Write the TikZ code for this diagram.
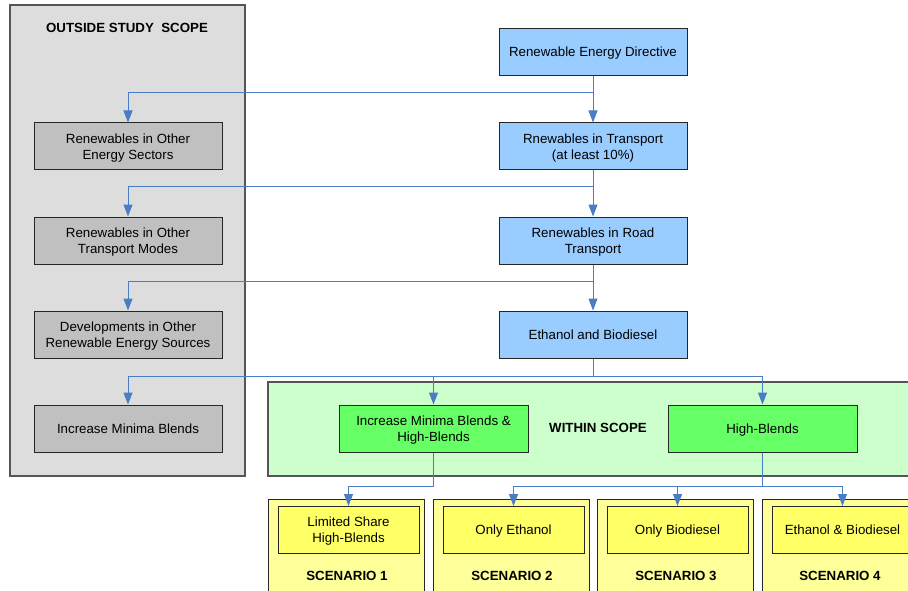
\documentclass[tikz,border=0pt]{standalone}
\usepackage{fontspec}
\setmainfont{Liberation Sans}
\usepackage{tikz}
\usetikzlibrary{arrows.meta}

\definecolor{outbg}{HTML}{DDDDDD}
\definecolor{outnode}{HTML}{C0C0C0}
\definecolor{bluenode}{HTML}{99CCFF}
\definecolor{greenbg}{HTML}{CCFFCC}
\definecolor{greennode}{HTML}{66FF66}
\definecolor{yellowbg}{HTML}{FFFF99}
\definecolor{yellownode}{HTML}{FFFF66}
\definecolor{linkblue}{HTML}{4A7EC4}
\definecolor{frame}{HTML}{555555}

\begin{document}
\begin{tikzpicture}[x=1pt, y=-1pt,
    every node/.style={font=\fontsize{13.3}{16.3}\selectfont, align=center, inner sep=0pt, text depth=0pt},
    lbl/.style={font=\fontsize{13.3}{16.3}\selectfont\bfseries},
    box/.style={draw=black!85, line width=1pt, minimum width=188pt, minimum height=47pt},
    smallbox/.style={box, fill=yellownode, minimum width=141pt},
    scen/.style={draw=black!85, line width=1pt, fill=yellowbg, minimum width=156pt, minimum height=101pt},
    area/.style={draw=frame, line width=1.3pt},
    wire/.style={draw=linkblue, line width=1pt},
    link/.style={wire, -{Triangle[length=12pt,width=9pt]}}]

    \useasboundingbox (0,0) rectangle (908,591);
    \clip (0,0) rectangle (908,591);

    % outside scope
    \draw[area, fill=outbg] (10,5) rectangle (245,476);
    \node[lbl] (outtitle) at (127,28) {OUTSIDE STUDY\ \ SCOPE};
    \node[box, fill=outnode] (oth1) at (128,146.5) {Renewables in Other\\Energy Sectors};
    \node[box, fill=outnode] (oth2) at (128,240.5) {Renewables in Other\\Transport Modes};
    \node[box, fill=outnode] (oth3) at (128,334.5) {Developments in Other\\Renewable Energy Sources};
    \node[box, fill=outnode] (oth4) at (128,428.5) {Increase Minima Blends};

    % policy chain
    \node[box, fill=bluenode] (red) at (593,52) {Renewable Energy Directive};
    \node[box, fill=bluenode] (trans) at (593,146.5) {Rnewables in Transport\\(at least 10\%)};
    \node[box, fill=bluenode] (road) at (593,240.5) {Renewables in Road\\Transport};
    \node[box, fill=bluenode] (ethbio) at (593,334.5) {Ethanol and Biodiesel};

    % within scope
    \draw[area, fill=greenbg] (268,382) rectangle (930,476);
    \node[lbl] (within) at (598,428) {WITHIN SCOPE};
    \node[box, fill=greennode, minimum width=189pt] (incr) at (433.5,428.5) {Increase Minima Blends \&\\High-Blends};
    \node[box, fill=greennode, minimum width=189pt] (high) at (762.5,428.5) {High-Blends};

    % scenarios
    \node[scen] (sc1) at (346,549.5) {};
    \node[smallbox] (in1) at (348.5,530) {Limited Share\\High-Blends};
    \node[lbl] (lab1) at (347,576) {SCENARIO 1};

    \node[scen] (sc2) at (511,549.5) {};
    \node[smallbox] (in2) at (513.5,530) {Only Ethanol};
    \node[lbl] (lab2) at (512,576) {SCENARIO 2};

    \node[scen] (sc3) at (675.5,549.5) {};
    \node[smallbox] (in3) at (677.5,530) {Only Biodiesel};
    \node[lbl] (lab3) at (676,576) {SCENARIO 3};

    \node[scen] (sc4) at (840,549.5) {};
    \node[smallbox] (in4) at (842.5,530) {Ethanol \& Biodiesel};
    \node[lbl] (lab4) at (840,576) {SCENARIO 4};

    % connectors
    \coordinate (j1) at (593,93);
    \coordinate (j2) at (593,187);
    \coordinate (j3) at (593,281);
    \coordinate (j4) at (593,376);
    \coordinate (k1) at (433.5,486.5);
    \coordinate (k2) at (762.5,486.5);

    \draw[link] (red.south) -- (trans.north);
    \draw[link] (j1) -| (oth1.north);
    \draw[link] (trans.south) -- (road.north);
    \draw[link] (j2) -| (oth2.north);
    \draw[link] (road.south) -- (ethbio.north);
    \draw[link] (j3) -| (oth3.north);
    \draw[wire] (ethbio.south) -- (j4);
    \draw[link] (j4) -| (oth4.north);
    \draw[link] (j4) -| (incr.north);
    \draw[link] (j4) -| (high.north);

    \draw[wire] (incr.south) -- (k1);
    \draw[link] (k1) -| (in1.north);
    \draw[wire] (high.south) -- (k2);
    \draw[link] (k2) -| (in2.north);
    \draw[link] (k2) -| (in3.north);
    \draw[link] (k2) -| (in4.north);
\end{tikzpicture}
\end{document}
